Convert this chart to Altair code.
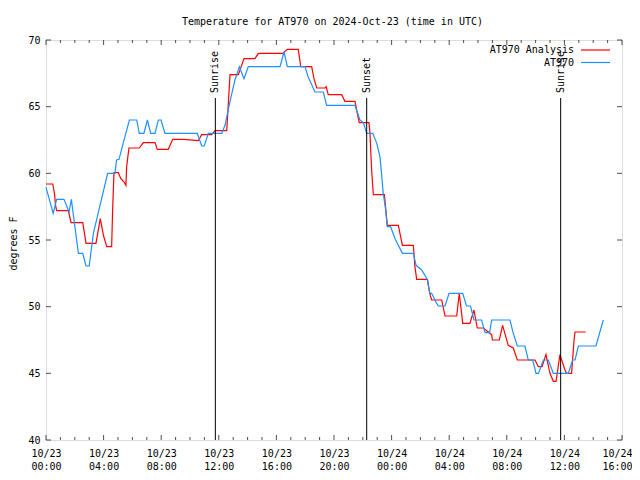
import altair as alt
import pandas as pd

# ---- data (hours since 2024-10-23 00:00 UTC, temperature in degrees F) ----
analysis_hours = [0.0, 0.47, 0.6, 0.66, 0.74, 1.55, 1.74, 2.55, 2.78, 3.47, 3.77, 4.0, 4.22, 4.56, 4.62,
                  4.72, 5.02, 5.2, 5.45, 5.55, 5.6, 5.76, 6.48, 6.76, 7.57, 7.73, 8.49, 8.8, 9.58, 10.58,
                  10.81, 11.5, 11.74, 12.55, 12.78, 13.36, 13.75, 14.51, 14.75, 16.44, 16.76, 17.52, 17.69,
                  18.45, 18.61, 18.8, 19.38, 19.45, 19.6, 20.53, 20.76, 21.46, 21.69, 21.75, 22.43, 22.5,
                  22.6, 22.73, 23.5, 23.6, 23.7, 24.47, 24.58, 24.75, 25.51, 25.62, 25.74, 26.48, 26.65,
                  26.78, 27.48, 27.71, 28.52, 28.7, 28.94, 29.44, 29.72, 29.95, 30.37, 30.95, 31.0, 31.48,
                  31.71, 32.1, 32.45, 32.73, 33.96, 34.19, 34.45, 34.72, 35.0, 35.23, 35.42, 35.69, 36.04,
                  36.15, 36.5, 36.67, 36.74, 37.48]
analysis_temps = [59.2, 59.2, 58.4, 57.6, 57.2, 57.2, 56.3, 56.3, 54.75, 54.75, 56.6, 55.3, 54.5, 54.5, 57.0,
                  60.05, 60.05, 59.6, 59.3, 59.1, 60.5, 61.9, 61.9, 62.3, 62.3, 61.8, 61.8, 62.55, 62.55, 62.45,
                  62.9, 62.9, 63.2, 63.2, 67.4, 67.4, 68.6, 68.6, 69.0, 69.0, 69.3, 69.3, 68.0,
                  68.0, 67.1, 66.4, 66.4, 66.5, 65.9, 65.9, 65.4, 65.4, 64.1, 63.8, 63.8, 63.0,
                  60.5, 58.4, 58.4, 57.25, 56.1, 56.1, 55.5, 54.6, 54.6, 53.0, 52.05, 52.05, 51.0,
                  50.5, 50.5, 49.3, 49.3, 51.0, 48.75, 48.75, 49.75, 48.4, 48.4, 47.9, 47.5, 47.5,
                  48.6, 47.1, 46.9, 46.0, 46.0, 45.5, 45.5, 46.4, 45.0, 44.4, 44.4, 46.4, 45.25,
                  45.0, 45.0, 47.5, 48.1, 48.1]

obs_hours = [0.0, 0.5, 0.74, 1.25, 1.6, 1.76, 2.25, 2.55, 2.78, 3.0, 3.29, 4.28, 4.79, 4.9, 5.07, 5.3, 5.79,
             6.3, 6.48, 6.8, 7.04, 7.27, 7.57, 7.8, 7.99, 8.26, 10.51, 10.81, 10.99, 11.27, 12.2, 12.43,
             12.78, 13.12, 13.43, 13.75, 14.05, 16.25, 16.53, 16.76, 17.99, 18.2, 18.68, 19.26, 19.49,
             21.46, 21.8, 22.04, 22.27, 22.69, 22.97, 23.19, 23.3, 23.42, 23.59, 23.7, 23.93, 24.24, 24.75,
             25.51, 25.7, 26.09, 26.5, 26.65, 26.78, 27.1, 27.25, 27.71, 27.99, 28.94, 29.2, 29.48, 29.72,
             30.25, 30.49, 30.8, 30.95, 32.22, 32.45, 32.73, 33.26, 33.49, 33.8, 34.03, 34.2, 34.54, 34.88,
             35.23, 36.27, 36.57, 36.74, 36.97, 38.19, 38.7]
obs_temps = [58.95, 57.0, 58.05, 58.05, 57.1, 58.05, 54.0, 54.0, 53.05, 53.05, 55.5, 60.0, 60.0, 61.0, 61.05,
             62.0, 64.0, 64.0, 63.0, 63.0, 64.0, 63.0, 63.0, 64.0, 64.0, 63.0, 63.0, 62.05, 62.05, 63.0, 63.0,
             63.6, 65.4, 67.0, 68.0, 67.1, 68.0, 68.0, 69.1, 68.0, 68.0, 67.25, 66.1, 66.1, 65.1,
             65.1, 64.0, 63.8, 63.0, 63.0, 62.25, 61.25, 60.0, 58.5, 57.25, 56.0, 56.0, 55.1, 54.0,
             54.0, 53.1, 52.75, 52.0, 51.0, 51.0, 50.3, 50.05, 50.05, 51.0, 51.0, 50.05, 50.05, 49.0,
             49.0, 48.05, 48.05, 49.0, 49.0, 48.0, 47.05, 47.05, 46.0, 46.0, 45.0, 45.0, 46.0, 46.0,
             45.0, 45.0, 46.0, 46.0, 47.05, 47.05, 49.0]

event_hours = [11.76, 22.27, 35.74]
event_labels = ["Sunrise", "Sunset", "Sunrise"]

x_major = list(range(0, 41, 4))
x_minor = [h for h in range(0, 41) if h % 4 != 0]
y_major = [40, 45, 50, 55, 60, 65, 70]

series_names = ["AT970 Analysis", "AT970"]
series_colors = ["#ff0000", "#1e90ff"]
title_text = "Temperature for AT970 on 2024-Oct-23 (time in UTC)"

# ---- styling ----
FONT = "DejaVu Sans Mono"
FS = 10
W, H = 576, 400

xscale = alt.Scale(domain=[0, 40], nice=False, zero=False)
yscale = alt.Scale(domain=[40, 70], nice=False, zero=False)

label_expr = ("[datum.value < 24 ? '10/23' : '10/24', "
              "(datum.value % 24 < 10 ? '0' : '') + (datum.value % 24) + ':00']")

x_axis = alt.Axis(values=x_major, labelExpr=label_expr, ticks=False, domain=False, grid=False,
                  labelPadding=8, labelFont=FONT, labelFontSize=FS, labelLineHeight=13,
                  labelBaseline="top", labelFlush=False, labelOverlap=False, labelColor="black",
                  labelOffset={"condition": {"test": "datum.value >= 40", "value": -5}, "value": 0},
                  title=None)
y_axis = alt.Axis(values=y_major, ticks=False, domain=False, grid=False, labelPadding=6,
                  labelFont=FONT, labelFontSize=FS, labelColor="black", labelFlush=False,
                  title="degrees F", titleFont=FONT, titleFontSize=FS, titleFontWeight="normal",
                  titleColor="black", titleX=-33, titleY=203, titleAngle=270, titleAlign="center",
                  titleBaseline="middle")

X = alt.X("h:Q", scale=xscale, axis=x_axis)
Y = alt.Y("t:Q", scale=yscale, axis=y_axis)

df_a = pd.DataFrame({"h": analysis_hours, "t": analysis_temps})
df_o = pd.DataFrame({"h": obs_hours, "t": obs_temps})
df_ev = pd.DataFrame({"h": event_hours, "label": event_labels})

line_a = alt.Chart(df_a).mark_line(color=series_colors[0], strokeWidth=1.2).encode(x=X, y=Y)
line_o = alt.Chart(df_o).mark_line(color=series_colors[1], strokeWidth=1.2).encode(x=X, y=Y)

ev_rule = alt.Chart(df_ev).mark_rule(color="black", strokeWidth=1).encode(
    x=X, y=alt.value(58), y2=alt.value(H))
ev_text = alt.Chart(df_ev).mark_text(angle=270, align="left", baseline="middle", font=FONT,
                                     fontSize=FS, color="black").encode(
    x=X, y=alt.value(53), text="label:N")

# inward ticks (gnuplot style, mirrored)
def xticks(hours, level, size, offset):
    df = pd.DataFrame({"h": hours, "t": [level] * len(hours)})
    return alt.Chart(df).mark_tick(orient="vertical", size=size, thickness=1, color="black",
                                   yOffset=offset).encode(x=X, y=Y)

def yticks(level, offset):
    df = pd.DataFrame({"h": [level] * len(y_major), "t": y_major})
    return alt.Chart(df).mark_tick(orient="horizontal", size=5, thickness=1, color="black",
                                   xOffset=offset).encode(x=X, y=Y)

ticks = [
    xticks(x_major, 40, 5, -2.5), xticks(x_minor, 40, 3, -1.5),
    xticks(x_major, 70, 5, 2.5), xticks(x_minor, 70, 3, 1.5),
    yticks(0, 2.5), yticks(40, -2.5),
]

dummy = pd.DataFrame({"k": [0]})

# chart title as a text mark above the plot
title_layer = alt.Chart(dummy).mark_text(align="center", baseline="alphabetic", font=FONT,
                                         fontSize=FS, color="black").encode(
    x=alt.value(W / 2 - 1.5), y=alt.value(-15.5), text=alt.value(title_text))

# key (top right, text left of the line sample)
key_layers = []
for i, (name, col) in enumerate(zip(series_names, series_colors)):
    ypix = 10 + 12.5 * i
    key_layers.append(alt.Chart(dummy).mark_text(align="right", baseline="middle", font=FONT,
                                                 fontSize=FS, color="black").encode(
        x=alt.value(528), y=alt.value(ypix), text=alt.value(name)))
    key_layers.append(alt.Chart(dummy).mark_rule(color=col, strokeWidth=1.2).encode(
        x=alt.value(535), x2=alt.value(564), y=alt.value(ypix)))

chart = alt.layer(line_a, line_o, ev_rule, ev_text, *ticks, title_layer, *key_layers).properties(
    width=W, height=H,
    autosize=alt.AutoSizeParams(type="none"),
    padding={"left": 38, "top": 32, "right": 10, "bottom": 32},
).configure_view(stroke="black", strokeWidth=1).configure(background="white")

chart.save("out.html", embed_options={"renderer": "svg", "actions": False})
